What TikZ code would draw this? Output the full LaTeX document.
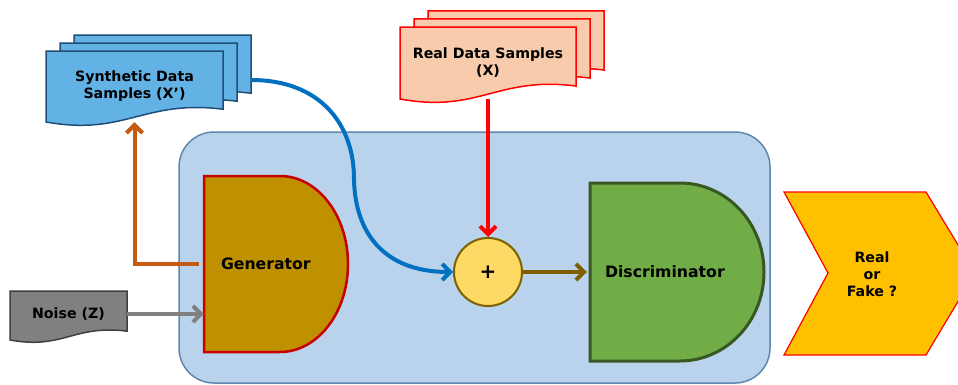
\documentclass[tikz,border=0pt]{standalone}
\usepackage{fontspec}
\setmainfont{DejaVu Sans}
\usetikzlibrary{calc,arrows.meta}
\definecolor{panelfill}{RGB}{185,211,236}
\definecolor{paneledge}{RGB}{96,134,178}
\definecolor{genfill}{RGB}{191,144,0}
\definecolor{genedge}{RGB}{200,0,0}
\definecolor{discfill}{RGB}{112,173,71}
\definecolor{discedge}{RGB}{56,87,35}
\definecolor{addfill}{RGB}{255,217,102}
\definecolor{addedge}{RGB}{127,96,0}
\definecolor{realfill}{RGB}{248,203,173}
\definecolor{synfill}{RGB}{99,178,230}
\definecolor{synedge}{RGB}{31,78,121}
\definecolor{noisefill}{RGB}{128,128,128}
\definecolor{noiseedge}{RGB}{64,64,64}
\definecolor{verdictfill}{RGB}{255,192,0}
\definecolor{orangeline}{RGB}{197,90,17}
\definecolor{blueline}{RGB}{0,112,192}
\def\docpage[#1](#2,#3)(#4:#5){\draw[#1] (#2,#3+#5) -- (#2,#3) .. controls (#2+0.45*#4,#3-0.2*#5) and (#2+0.55*#4,#3+0.32*#5) .. (#2+#4,#3+0.18*#5) -- (#2+#4,#3+#5) -- cycle;}
\tikzset{
	txt/.style={font=\bfseries\fontsize{14.2}{17}\selectfont, align=center, inner sep=0pt},
	bigtxt/.style={font=\bfseries\fontsize{15.7}{19}\selectfont, align=left, inner sep=0pt},
	flow/.style={line width=4pt, -{Straight Barb[length=8pt,width=16pt]}},
}

\begin{document}
\begin{tikzpicture}[x=1pt, y=1pt]
			%%%%% START %%%%%
			\useasboundingbox (0, 0) rectangle (958, 384);
			
			\node[draw=paneledge, fill=panelfill, line width=1.5pt, rounded corners=35pt, minimum width=591pt, minimum height=251pt] (gan) at (474.5, 126.5) {};
			
			% real data samples
			\docpage[draw=red, fill=realfill, line width=1.5pt](428,301)(176:72)
			\docpage[draw=red, fill=realfill, line width=1.5pt](414,293)(176:72)
			\docpage[draw=red, fill=realfill, line width=1.5pt](400,285)(176:72)
			\node[txt, minimum width=176pt, minimum height=72pt] (real) at (488, 321) {Real Data Samples\\(X)};
			
			% synthetic samples
			\docpage[draw=synedge, fill=synfill, line width=1.5pt](74,278)(177:71)
			\docpage[draw=synedge, fill=synfill, line width=1.5pt](60,270)(177:71)
			\docpage[draw=synedge, fill=synfill, line width=1.5pt](46,262)(177:71)
			\node[txt, minimum width=177pt, minimum height=71pt] (syn) at (134.5, 297.5) {Synthetic Data\\Samples (X’)};
			\coordinate (synout) at ($(syn.east)+(28, 6.5)$);
			
			% noise
			\docpage[draw=noiseedge, fill=noisefill, line width=1.5pt](10,44)(117:49)
			\node[txt, minimum width=117pt, minimum height=49pt] (noise) at (68.5, 70) {Noise (Z)};
			
			% generator
			\draw[draw=genedge, fill=genfill, line width=2.5pt] (204, 32) -- (204, 208) -- (280, 208) arc[start angle=90, end angle=-90, x radius=68, y radius=88] -- cycle;
			\node[bigtxt, minimum width=144pt, minimum height=176pt, text width=110pt] (gen) at (276, 120) {Generator};
			
			% discriminator
			\draw[draw=discedge, fill=discfill, line width=3pt] (590, 23) -- (590, 201) -- (680, 201) arc[start angle=90, end angle=-90, x radius=84, y radius=89] -- cycle;
			\node[bigtxt, minimum width=174pt, minimum height=178pt, text width=144pt] (disc) at (677, 112) {Discriminator};
			
			\node[circle, draw=addedge, fill=addfill, line width=2pt, minimum size=68pt, inner sep=0pt, font=\bfseries\fontsize{20}{20}\selectfont] (plus) at (488, 112) {+};
			
			% verdict
			\draw[draw=red, fill=verdictfill, line width=1.2pt] (784, 192) -- (926, 192) -- (975, 111) -- (926, 29) -- (784, 29) -- (828, 111) -- cycle;
			\node[txt] (verdict) at (872, 110) {Real\\or\\Fake ?};
			
			% connectors
			\draw[flow, color=orangeline, shorten <=5pt] (gen.west) -| (syn.south);
			\draw[flow, color=black!50] (noise.east) -- (noise.east -| gen.west);
			\draw[flow, color=blueline] (synout) .. controls (320, 304) and (354, 260) .. (354, 205) .. controls (355, 150) and (385, 112) .. (plus.west);
			\draw[flow, color=red] (real.south) -- (plus.north);
			\draw[flow, color=addedge, shorten >=3pt] (plus.east) -- (disc.west);
			
			%%%%% END %%%%%
\end{tikzpicture}
\end{document}
